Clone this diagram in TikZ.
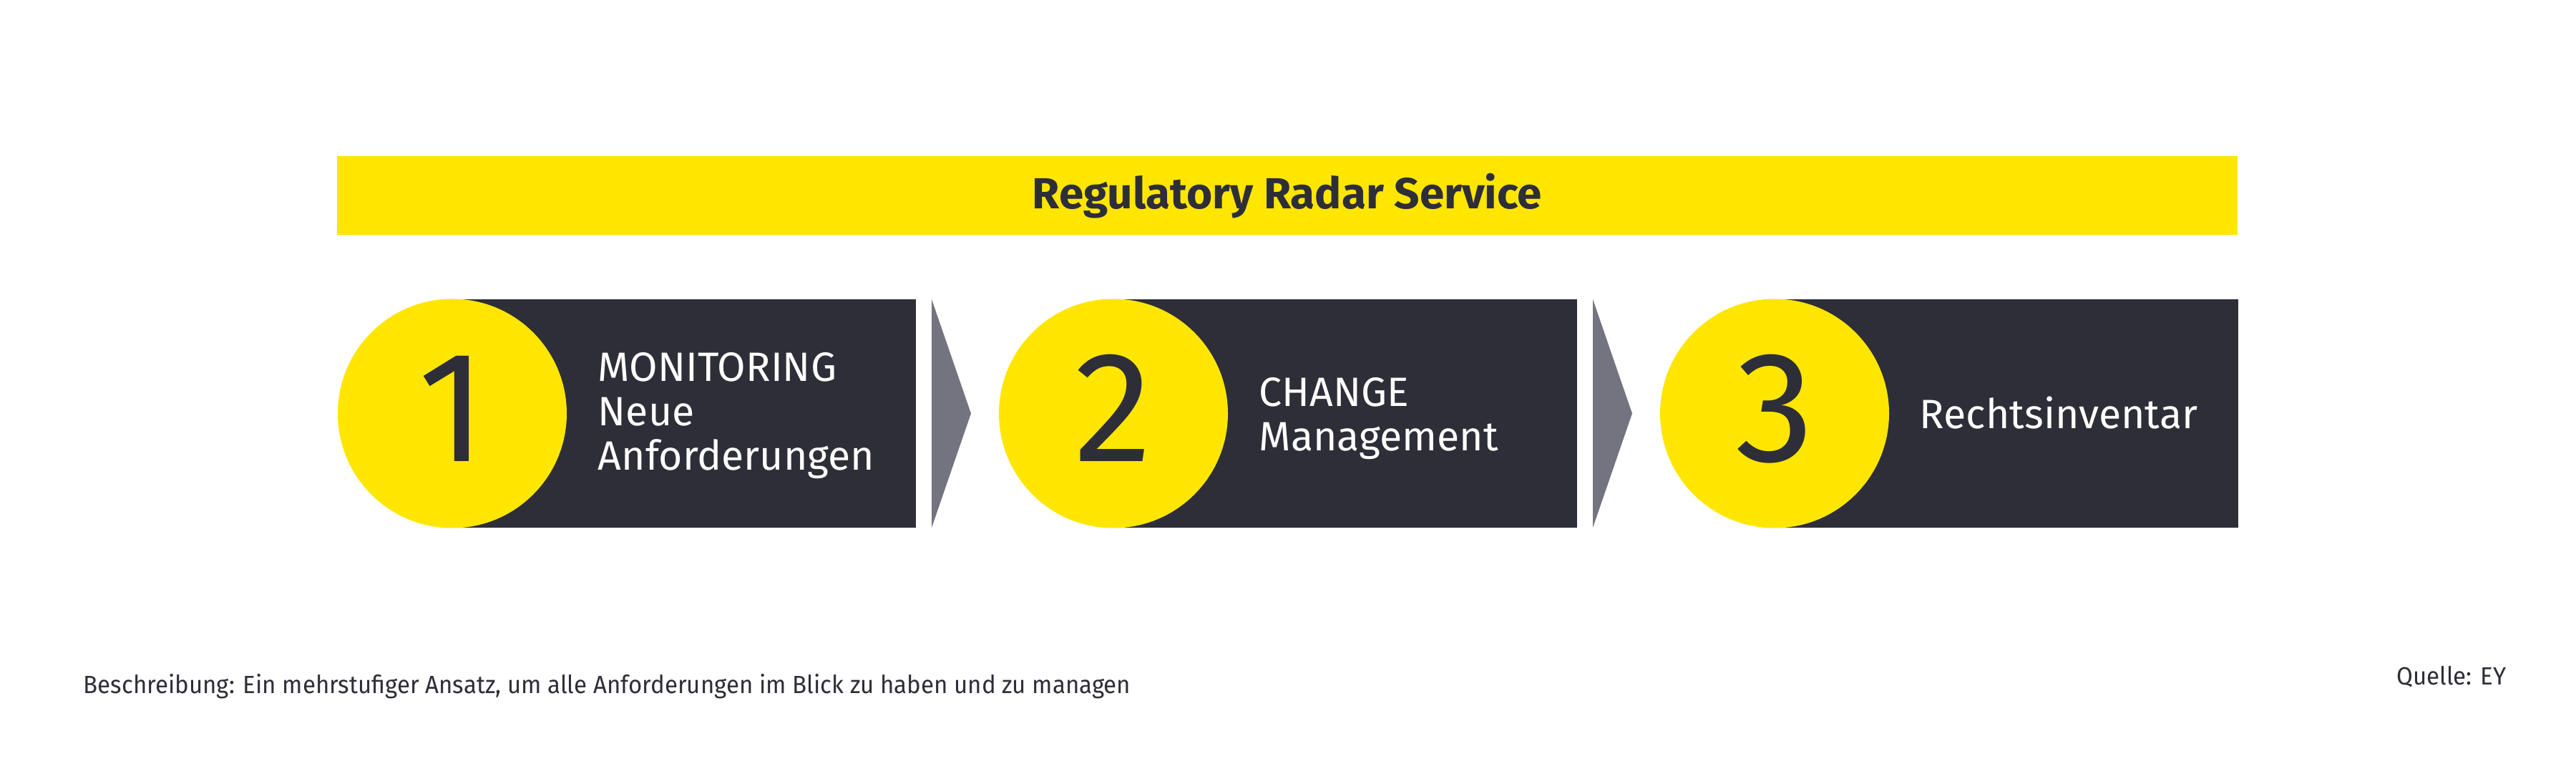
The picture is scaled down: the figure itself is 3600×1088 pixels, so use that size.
\documentclass[tikz,border=0pt]{standalone}
\usepackage{fontspec}
\setmainfont{Fira Sans}
\newfontfamily\footfont[FakeStretch=0.95]{Fira Sans}
\newfontfamily\titlefont[FakeStretch=1.02]{Fira Sans}
\definecolor{eyyellow}{HTML}{FFE600}
\definecolor{eydark}{HTML}{2E2E38}
\definecolor{eygray}{HTML}{747480}
\begin{document}
\begin{tikzpicture}[x=0.25pt,y=-0.25pt,
  bar/.style={fill=eyyellow,draw=none},
  darkbox/.style={fill=eydark,draw=none},
  disc/.style={fill=eyyellow,draw=none},
  chevron/.style={fill=eygray,draw=none},
  digit/.style={text=eydark,font=\fontsize{55}{60}\selectfont,inner sep=0pt,anchor=base},
  steptext/.style={text=white,font=\fontsize{14.3}{15.5}\selectfont,inner sep=0pt,anchor=base west,align=left},
  footer/.style={text=eydark,font=\footfont\fontsize{8.7}{10}\selectfont,inner sep=0pt}
]
\useasboundingbox (0,0) rectangle (3600,1088);
\fill[white] (0,0) rectangle (3600,1088);
% title bar
\fill[bar] (471,218) rectangle (3127,328);
\node[text=eydark,font=\titlefont\fontsize{15.2}{16}\selectfont\bfseries,inner sep=0pt,anchor=base] (title) at (1799,291.7) {Regulatory Radar Service};
% steps
\foreach \cx/\n in {632/1,1556/2,2480/3}{
  \fill[darkbox] (\cx,418) rectangle (\cx+648,737);
  \fill[disc] (\cx,577.5) circle (160);
  \node[digit] (d\n) at (\cx,645) {\n};
}
\fill[chevron] (1302,418) -- (1357,577.5) -- (1302,737) -- cycle;
\fill[chevron] (2226,418) -- (2281,577.5) -- (2226,737) -- cycle;
\node[steptext] (t1) at (835,657) {MONITORING\\Neue\\Anforderungen};
\node[steptext] (t2) at (1759,630) {CHANGE\\Management};
\node[steptext] (t3) at (2682,599) {Rechtsinventar};
% footer
\node[footer,anchor=base west] (desc) at (116,969) {Beschreibung: Ein mehrstufiger Ansatz, um alle Anforderungen im Blick zu haben und zu managen};
\node[footer,anchor=base east] (src) at (3503,957) {Quelle: EY};
\end{tikzpicture}
\end{document}
